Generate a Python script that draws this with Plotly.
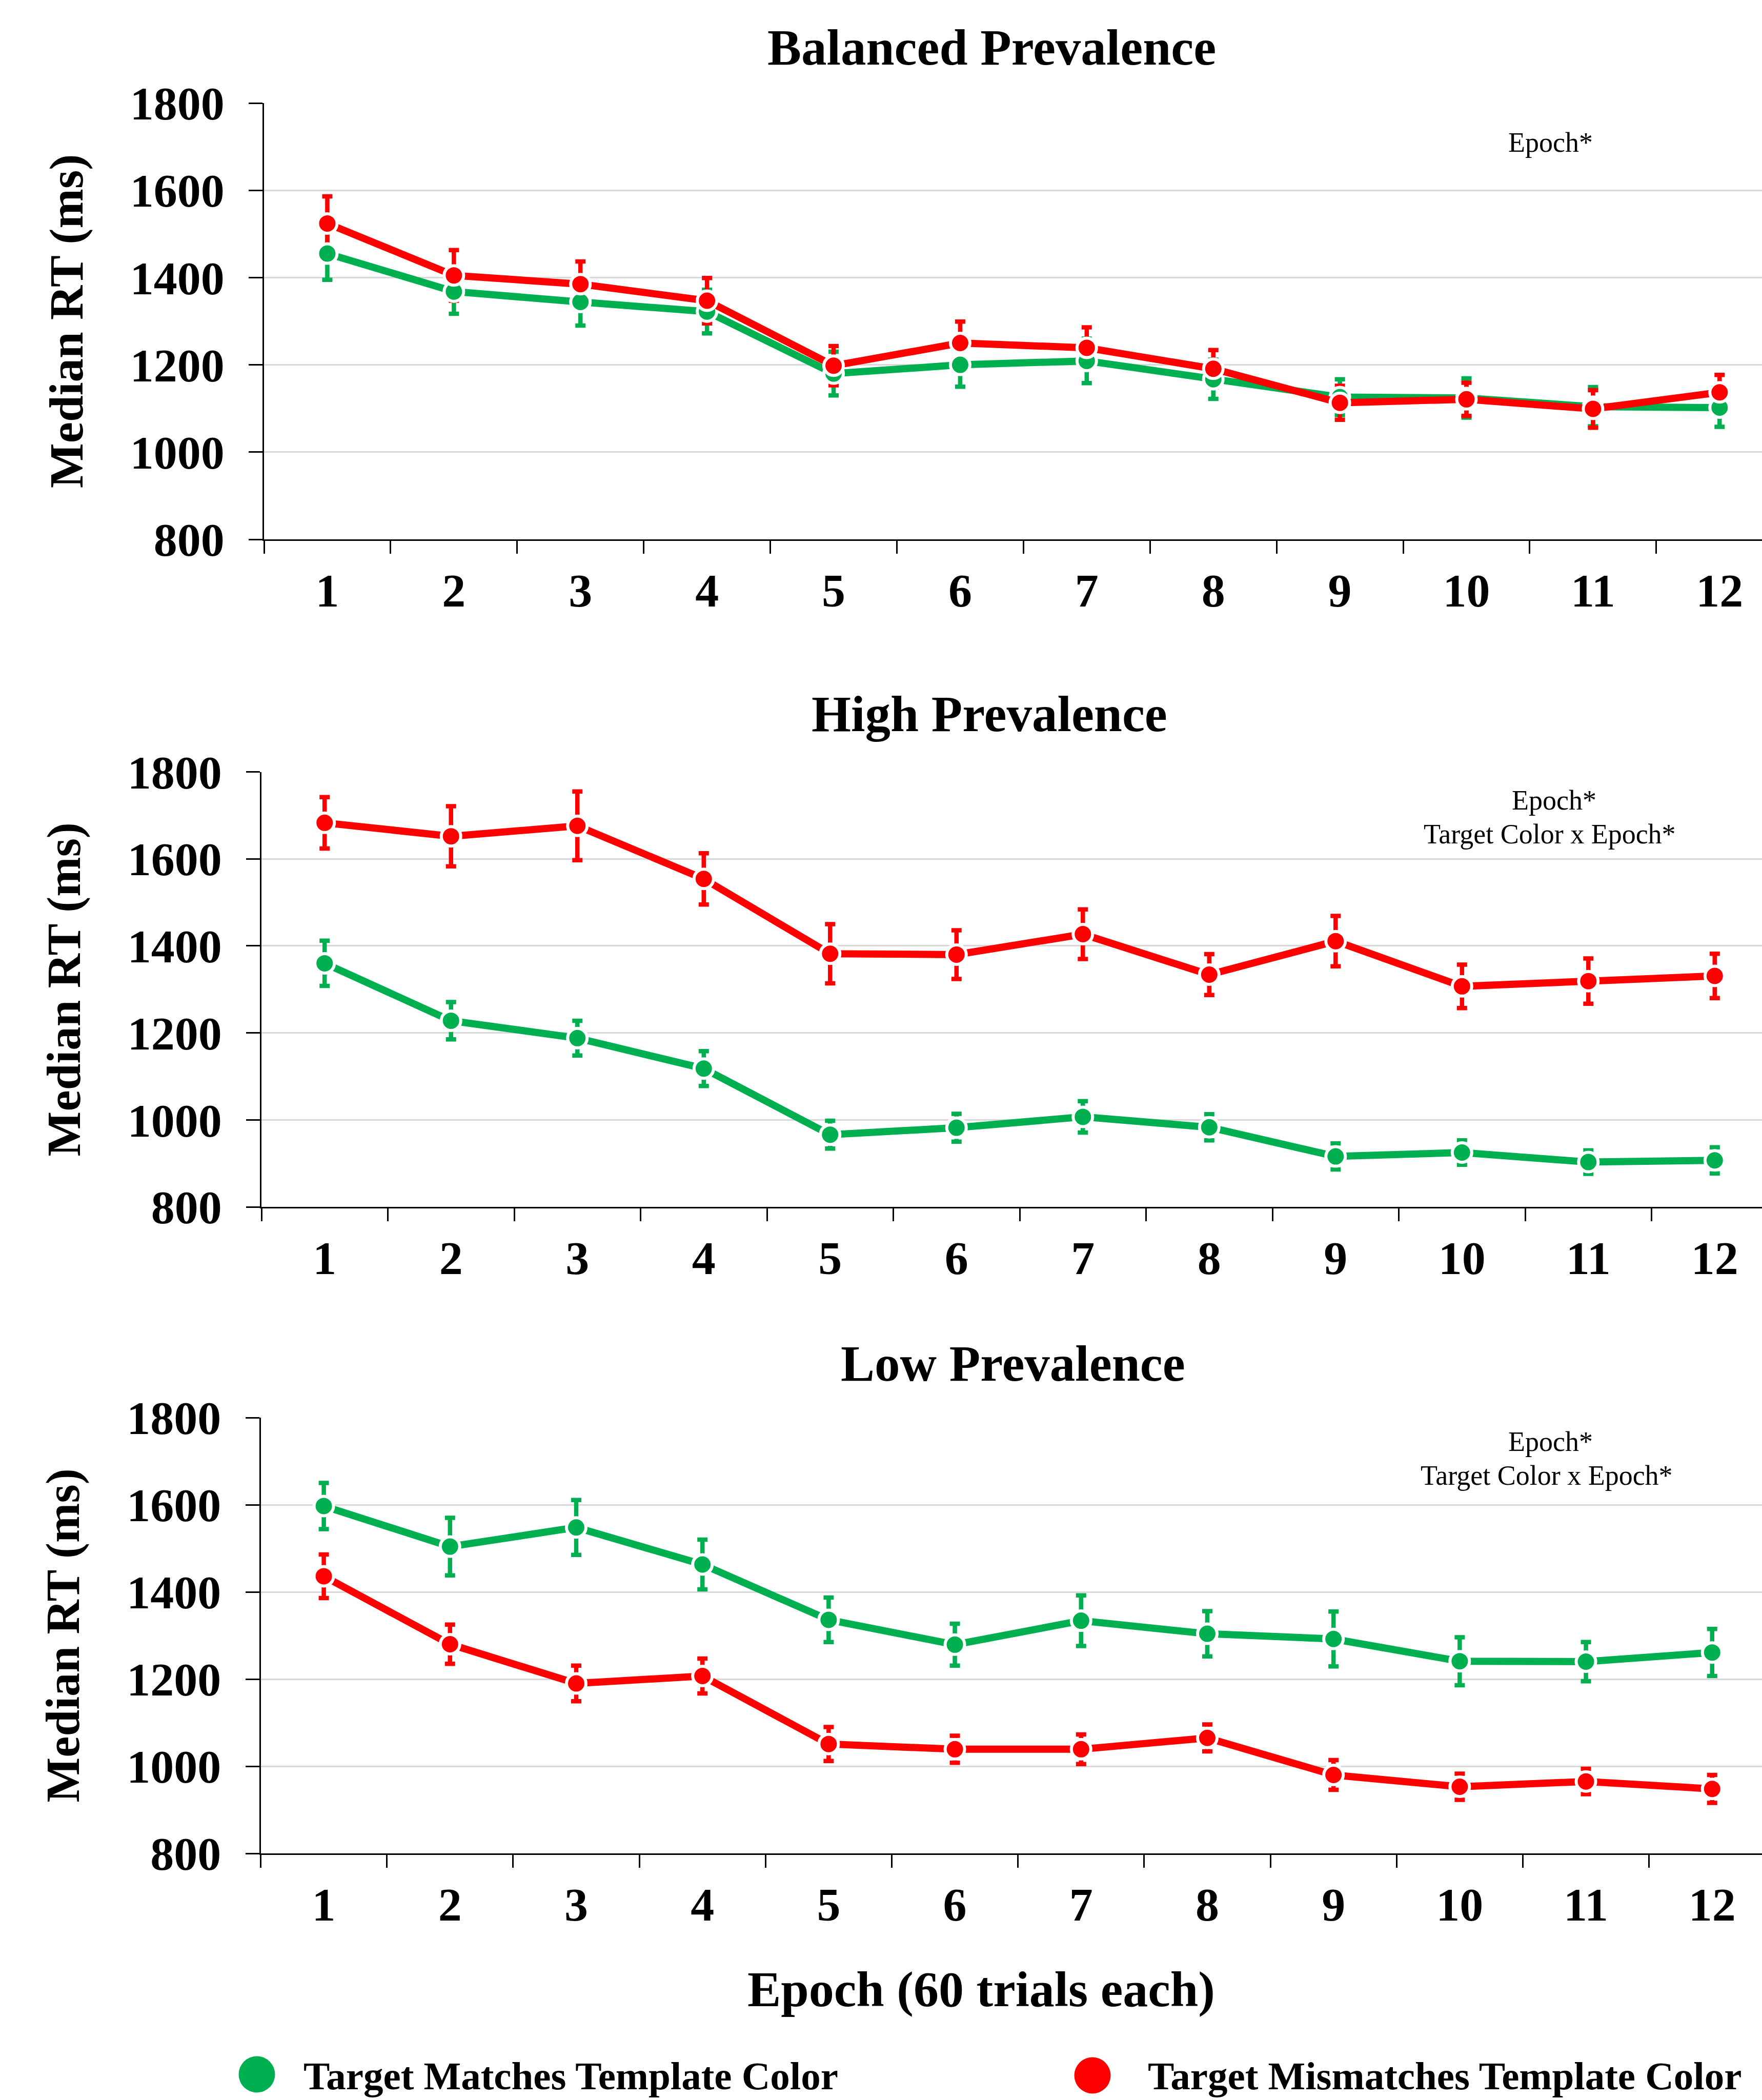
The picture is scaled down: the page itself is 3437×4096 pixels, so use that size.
import plotly.graph_objects as go

# ---------------- data ----------------
epochs = list(range(1, 13))
epoch_labels = [str(e) for e in epochs]
y_ticks = [800, 1000, 1200, 1400, 1600, 1800]

series_names = ["Target Matches Template Color", "Target Mismatches Template Color"]

bal_match = [1455, 1368, 1344, 1322, 1180, 1200, 1209, 1167, 1126, 1124, 1104, 1102]
bal_match_err = [60, 51, 54, 50, 50, 50, 51, 45, 41, 45, 45, 44]
bal_mismatch = [1524, 1405, 1385, 1347, 1198, 1250, 1239, 1191, 1113, 1121, 1099, 1137]
bal_mismatch_err = [62, 58, 52, 52, 45, 49, 47, 43, 39, 38, 43, 40]

high_match = [1360, 1228, 1188, 1118, 966, 982, 1007, 983, 916, 925, 903, 907]
high_match_err = [52, 43, 40, 40, 32, 32, 36, 30, 30, 28, 27, 30]
high_mismatch = [1683, 1652, 1676, 1554, 1382, 1380, 1427, 1334, 1411, 1307, 1319, 1331]
high_mismatch_err = [59, 69, 79, 59, 68, 56, 57, 47, 58, 50, 52, 51]

low_match = [1597, 1504, 1548, 1463, 1336, 1279, 1334, 1304, 1292, 1241, 1240, 1261]
low_match_err = [53, 66, 63, 57, 51, 48, 58, 52, 63, 55, 45, 54]
low_mismatch = [1436, 1280, 1190, 1207, 1051, 1039, 1039, 1065, 980, 953, 965, 948]
low_mismatch_err = [50, 45, 41, 40, 39, 31, 34, 31, 34, 30, 29, 32]

panel_titles = ["Balanced Prevalence", "High Prevalence", "Low Prevalence"]
panel_notes = [["Epoch*"],
               ["Epoch*", "Target Color x Epoch*"],
               ["Epoch*", "Target Color x Epoch*"]]
x_title = "Epoch (60 trials each)"
y_title = "Median RT (ms)"

# ---------------- style / layout ----------------
W, H = 3437, 4096
GREEN = "#00B050"
RED = "#FF0000"
FONT = "Liberation Serif"

def px(x):
    return x / W

def py(y):
    return 1 - y / H

panels = [
    dict(match=bal_match, match_err=bal_match_err, mis=bal_mismatch, mis_err=bal_mismatch_err,
         x0=515, xend=12.335, ytop=201, ybot=1052, title_xy=(1934, 92),
         note_xy=[(3024, 278)]),
    dict(match=high_match, match_err=high_match_err, mis=high_mismatch, mis_err=high_mismatch_err,
         x0=510, xend=12.374, ytop=1505.6, ybot=2354, title_xy=(1930, 1392),
         note_xy=[(3031, 1561), (3023, 1627)]),
    dict(match=low_match, match_err=low_match_err, mis=low_mismatch, mis_err=low_mismatch_err,
         x0=508.5, xend=12.395, ytop=2765, ybot=3615, title_xy=(1976, 2659),
         note_xy=[(3024, 2812), (3017, 2878)]),
]

fig = go.Figure()
annotations = []
shapes = []
layout_axes = {}

for i, p in enumerate(panels):
    k = "" if i == 0 else str(i + 1)
    xa, ya = "x" + k, "y" + k

    # error bars first (behind all lines/markers)
    for vals, errs, col in [(p["match"], p["match_err"], GREEN), (p["mis"], p["mis_err"], RED)]:
        fig.add_trace(go.Scatter(
            x=epochs, y=vals, mode="markers",
            marker=dict(size=1, color="rgba(0,0,0,0)"),
            error_y=dict(type="data", array=errs, visible=True, color=col, thickness=8.5, width=10),
            xaxis=xa, yaxis=ya, showlegend=False, hoverinfo="skip"))
    for vals, col, nm in [(p["match"], GREEN, series_names[0]), (p["mis"], RED, series_names[1])]:
        fig.add_trace(go.Scatter(
            x=epochs, y=vals, mode="lines+markers", name=nm,
            line=dict(color=col, width=14),
            marker=dict(size=38, color=col, line=dict(color="white", width=6)),
            xaxis=xa, yaxis=ya, showlegend=False))

    layout_axes["xaxis" + k] = dict(
        domain=[px(p["x0"]), 1], range=[0.5, p["xend"]], anchor=ya,
        tickmode="array", tickvals=epochs, ticktext=epoch_labels, ticks="",
        ticklabelstandoff=18,
        tickfont=dict(family=FONT, size=92, color="black", weight="bold"),
        showline=True, linecolor="black", linewidth=2.5,
        showgrid=False, zeroline=False, fixedrange=True, automargin=False,
        minor=dict(tickmode="array", tickvals=[e - 0.5 for e in epochs] + [12.5],
                   ticks="outside", ticklen=25, tickwidth=2.5, tickcolor="black",
                   showgrid=False))
    layout_axes["yaxis" + k] = dict(
        domain=[py(p["ybot"]), py(p["ytop"])], range=[800, 1800], anchor=xa,
        tickmode="array", tickvals=y_ticks, ticks="outside", ticklen=27, tickwidth=2.5,
        tickcolor="black", ticklabelstandoff=29,
        tickfont=dict(family=FONT, size=92, color="black", weight="bold"),
        showline=True, linecolor="black", linewidth=2.5,
        showgrid=True, gridcolor="#D9D9D9", gridwidth=2.5, zeroline=False, fixedrange=True,
        automargin=False,
        title=dict(text=y_title, font=dict(family=FONT, size=93, color="black", weight="bold"),
                   standoff=62))

    tx, ty = p["title_xy"]
    annotations.append(dict(text=panel_titles[i], x=px(tx), y=py(ty), xref="paper", yref="paper",
                            xanchor="center", yanchor="middle", showarrow=False,
                            font=dict(family=FONT, size=99, color="black", weight="bold")))
    for txt, (nx, ny) in zip(panel_notes[i], p["note_xy"]):
        annotations.append(dict(text=txt, x=px(nx), y=py(ny), xref="paper", yref="paper",
                                xanchor="center", yanchor="middle", showarrow=False,
                                font=dict(family=FONT, size=54, color="black")))

# x-axis title
annotations.append(dict(text=x_title, x=px(1914), y=py(3880), xref="paper", yref="paper",
                        xanchor="center", yanchor="middle", showarrow=False,
                        font=dict(family=FONT, size=98, color="black", weight="bold")))

# legend (bottom)
legend_items = [(series_names[0], GREEN, (501, 4046), 590),
                (series_names[1], RED, (2131, 4048), 2237)]
for nm, col, (cx, cy), tx in legend_items:
    shapes.append(dict(type="circle", xref="paper", yref="paper",
                       xsizemode="pixel", ysizemode="pixel",
                       xanchor=px(cx), yanchor=py(cy), x0=-35.5, x1=35.5, y0=-35.5, y1=35.5,
                       fillcolor=col, line=dict(width=0)))
    annotations.append(dict(text=nm, x=px(tx), y=py(4049), xref="paper", yref="paper",
                            xanchor="left", yanchor="middle", showarrow=False,
                            font=dict(family=FONT, size=77, color="black", weight="bold")))

fig.update_layout(
    width=W, height=H,
    margin=dict(l=0, r=0, t=0, b=0, pad=0, autoexpand=False),
    paper_bgcolor="white", plot_bgcolor="white",
    showlegend=False,
    annotations=annotations, shapes=shapes,
    **layout_axes)

fig.write_html("out.html", config={"displayModeBar": False},
               post_script="document.body.style.margin='0';")
